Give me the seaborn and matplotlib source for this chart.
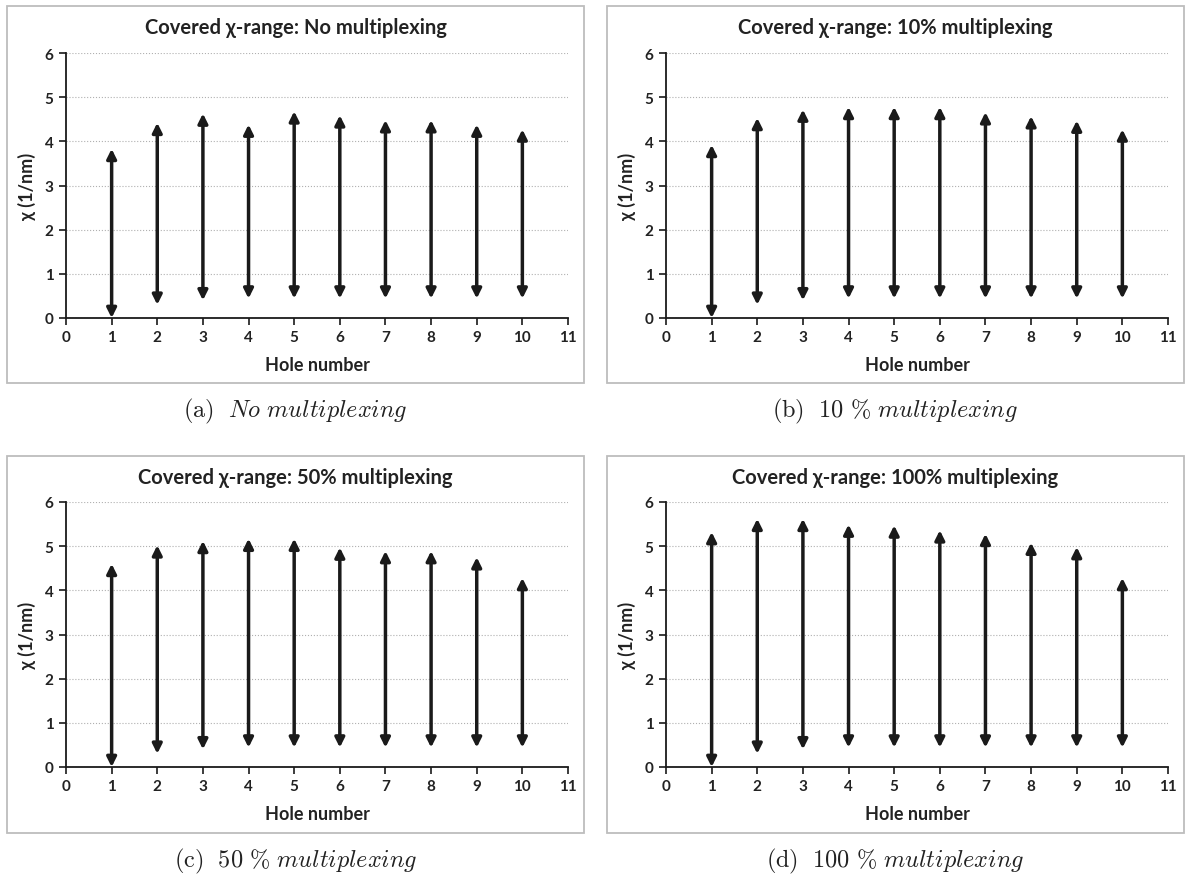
import matplotlib
matplotlib.use("Agg")
import matplotlib.pyplot as plt
from matplotlib.patches import Rectangle
import seaborn as sns

# hole numbers and covered chi-range (lower / upper ends, 1/nm)
holes = [1, 2, 3, 4, 5, 6, 7, 8, 9, 10]
chi_low = [0.0, 0.3, 0.4, 0.44, 0.44, 0.44, 0.44, 0.44, 0.44, 0.44]
chi_high_none = [3.83, 4.42, 4.63, 4.38, 4.68, 4.59, 4.48, 4.48, 4.38, 4.27]
chi_high_10 = [3.92, 4.53, 4.72, 4.78, 4.78, 4.78, 4.66, 4.57, 4.47, 4.27]
chi_high_50 = [4.60, 5.02, 5.12, 5.17, 5.17, 4.97, 4.89, 4.89, 4.75, 4.28]
chi_high_100 = [5.32, 5.62, 5.62, 5.49, 5.47, 5.36, 5.28, 5.08, 4.98, 4.28]

titles = ["Covered χ-range: No multiplexing", "Covered χ-range: 10% multiplexing",
          "Covered χ-range: 50% multiplexing", "Covered χ-range: 100% multiplexing"]
captions = [r"$\mathrm{(a)}\ \ \mathit{No\ multiplexing}$",
            r"$\mathrm{(b)}\ \ \mathit{10\ \%\ multiplexing}$",
            r"$\mathrm{(c)}\ \ \mathit{50\ \%\ multiplexing}$",
            r"$\mathrm{(d)}\ \ \mathit{100\ \%\ multiplexing}$"]
highs = [chi_high_none, chi_high_10, chi_high_50, chi_high_100]

sns.set_theme(style="white")
plt.rcParams["font.family"] = ["Lato", "DejaVu Sans"]
plt.rcParams["mathtext.fontset"] = "cm"

W, H = 1186, 878
fig = plt.figure(figsize=(W / 100, H / 100), dpi=100)

# pixel layout: (axes left, axes top, box left, box top)
panels = [(66, 54, 7, 7), (666, 54, 607, 7), (66, 503, 7, 457), (666, 503, 607, 457)]
ax_w, ax_h = 502, 265
box_w, box_h = 577, 377

for i, (axl, axt, bl, bt) in enumerate(panels):
    fig.patches.append(Rectangle((bl / W, 1 - (bt + box_h) / H), box_w / W, box_h / H,
                                 transform=fig.transFigure, fill=False,
                                 edgecolor="#bdbdbd", lw=1.3))
    ax = fig.add_axes([axl / W, 1 - (axt + ax_h) / H, ax_w / W, ax_h / H])
    ax.set_xlim(0, 11)
    ax.set_ylim(0, 6)
    ax.set_xticks(range(0, 12))
    ax.set_yticks(range(0, 7))
    ax.yaxis.grid(True, ls=":", color="#b0b0b0", lw=0.8)
    ax.set_axisbelow(True)
    sns.despine(ax=ax)
    for s in ["left", "bottom"]:
        ax.spines[s].set_color("#1a1a1a")
        ax.spines[s].set_linewidth(1.3)
    ax.tick_params(axis="both", direction="out", length=5, width=1.2, color="#1a1a1a",
                   labelsize=11, pad=4, bottom=True, left=True)
    for lab in ax.get_xticklabels() + ax.get_yticklabels():
        lab.set_fontweight("bold")
        lab.set_color("#222222")

    for x, lo, hi in zip(holes, chi_low, highs[i]):
        ax.annotate("", xy=(x, hi), xytext=(x, lo), annotation_clip=False,
                    arrowprops=dict(arrowstyle="<|-|>", color="#1a1a1a", lw=2.5,
                                    mutation_scale=14, shrinkA=0, shrinkB=0))

    ax.set_xlabel("Hole number", fontsize=13, fontweight="bold", color="#222222", labelpad=8)
    ax.set_ylabel("χ (1/nm)", fontsize=13, fontweight="bold", color="#222222", labelpad=6)
    cx = (bl + box_w / 2) / W
    fig.text(cx, 1 - (bt + 21) / H, titles[i], ha="center", va="center",
             fontsize=14.5, fontweight="bold", color="#222222")
    fig.text(cx, 1 - (bt + box_h + 27) / H, captions[i], ha="center", va="center",
             fontsize=17.5, color="#222222")

fig.savefig("out.png", dpi=100, facecolor="white")
